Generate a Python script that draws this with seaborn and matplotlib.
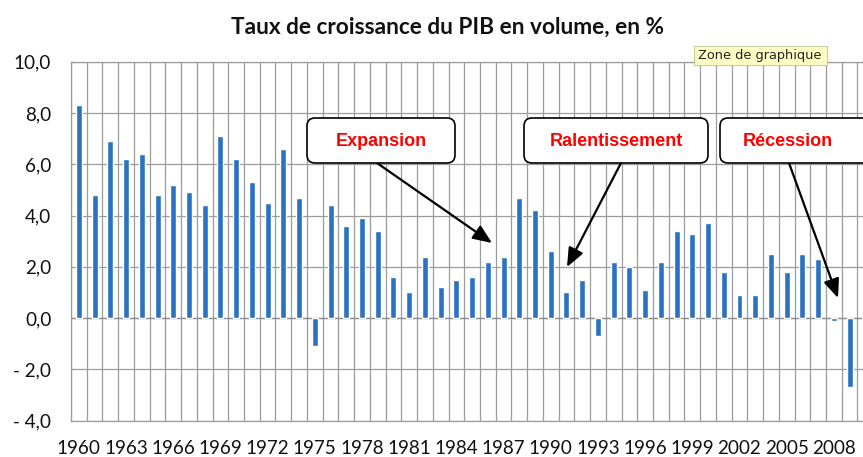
import matplotlib
matplotlib.use("Agg")

import pandas as pd
import matplotlib.pyplot as plt
import matplotlib.transforms as mtransforms
from matplotlib.patches import FancyBboxPatch, FancyArrowPatch, Rectangle
import seaborn as sns

# Data
years = list(range(1960, 2011))
growth = [8.3, 4.8, 6.9, 6.2, 6.4, 4.8, 5.2, 4.9, 4.4, 7.1,
          6.2, 5.3, 4.5, 6.6, 4.7, -1.1, 4.4, 3.6, 3.9, 3.4,
          1.6, 1.0, 2.4, 1.2, 1.5, 1.6, 2.2, 2.4, 4.7, 4.2,
          2.6, 1.0, 1.5, -0.7, 2.2, 2.0, 1.1, 2.2, 3.4, 3.3,
          3.7, 1.8, 0.9, 0.9, 2.5, 1.8, 2.5, 2.3, -0.1, -2.7,
          1.5]
y_ticks = [-4, -2, 0, 2, 4, 6, 8, 10]
y_labels = ['- 4,0', '- 2,0', '0,0', '2,0', '4,0', '6,0', '8,0', '10,0']
title = 'Taux de croissance du PIB en volume, en %'
phases = ['Expansion', 'Ralentissement', 'Récession']

df = pd.DataFrame({'year': [str(y) for y in years], 'growth': growth})

W, H = 863, 457
sns.set_style('white')
plt.rcParams['font.family'] = ['Lato', 'DejaVu Sans']

fig = plt.figure(figsize=(W / 100, H / 100), dpi=100)
# plot area in pixels: left 71, right 873 (clipped by figure edge), top 62, bottom 421
ax = fig.add_axes([71 / W, (H - 420.7) / H, 802.2 / W, 359 / H])

GRID = '#9c9c9c'
sns.barplot(data=df, x='year', y='growth', color='#2b73c2', saturation=1,
            width=0.38, ax=ax, zorder=3)

ax.set_xlim(-0.5, len(years) - 0.5)
ax.set_ylim(-4, 10)
ax.set_axisbelow(True)

# vertical grid on category boundaries
ax.set_xticks([i - 0.5 for i in range(len(years) + 1)], minor=True)
ax.grid(True, which='minor', axis='x', color=GRID, lw=0.9)
ax.grid(True, which='major', axis='y', color=GRID, lw=0.9)
ax.axhline(0, color='#8a8a8a', lw=0.9, zorder=1)

tick_pos = list(range(0, len(years), 3))
ax.set_xticks(tick_pos)
ax.set_xticklabels([str(years[i]) for i in tick_pos], fontsize=13.6, color='#111111')
ax.tick_params(axis='x', which='both', length=0, pad=14)

ax.set_yticks(y_ticks)
ax.set_yticklabels(y_labels, fontsize=13.6, color='#111111')
ax.tick_params(axis='y', length=4.3, color=GRID, pad=10, width=0.9)

ax.set_xlabel('')
ax.set_ylabel('')
for s in ax.spines.values():
    s.set_color(GRID)
    s.set_linewidth(0.9)

fig.text(447 / W, 1 - 27 / H, title, ha='center', va='center',
         fontsize=16.3, fontweight='bold', color='#111111')

# annotation boxes and arrows, in figure pixels measured from the top-left
pix = mtransforms.Affine2D().scale(1 / 100) + fig.dpi_scale_trans

boxes = [(307, 118, 455, 163), (524, 118, 708, 163), (720, 118, 875, 163)]
arrows = [((377, 163), (492, 243)), ((621, 163), (567, 267)), ((789, 163), (838, 298))]
text_x = [381, 616, 788]
for name, (x0, y0, x1, y1), (start, end), tx in zip(phases, boxes, arrows, text_x):
    arr = FancyArrowPatch((start[0], H - start[1]), (end[0], H - end[1]), transform=pix,
                          arrowstyle='-|>,head_length=11.5,head_width=4.8',
                          mutation_scale=1, shrinkA=0, shrinkB=0,
                          lw=1.6, color='black', zorder=9)
    fig.add_artist(arr)
    box = FancyBboxPatch((x0, H - y1), x1 - x0, y1 - y0, transform=pix,
                         boxstyle='round,pad=0,rounding_size=8',
                         fc='white', ec='black', lw=1.2, zorder=10)
    fig.add_artist(box)
    fig.text(tx / W, 1 - 141 / H, name, ha='center', va='center', color='#ff0000',
             fontsize=13, fontweight='bold', family=['Liberation Sans', 'DejaVu Sans'],
             zorder=11)

# tooltip of the spreadsheet
tip = Rectangle((694, H - 65), 133, 19, transform=pix, fc='#ffffc4',
                ec='#c9c9a0', lw=0.8, zorder=12)
fig.add_artist(tip)
fig.text(760 / W, 1 - 56 / H, 'Zone de graphique', ha='center', va='center',
         fontsize=9.3, color='#222222', family=['DejaVu Sans'], zorder=13)

fig.savefig('out.png', dpi=100)
